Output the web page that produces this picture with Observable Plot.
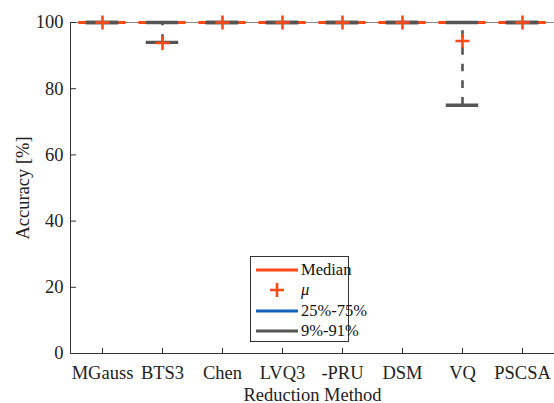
<!DOCTYPE html>
<html>
<head>
<meta charset="utf-8">
<script src="https://cdn.jsdelivr.net/npm/d3@7"></script>
<script src="https://cdn.jsdelivr.net/npm/@observablehq/plot@0.6"></script>
<style>
  body { margin: 0; background: #fff; }
  #wrap { position: relative; width: 554px; height: 403px; overflow: hidden; font-family: "Liberation Serif", "Times New Roman", serif; }
  #wrap svg, #wrap svg text { font-family: "Liberation Serif", "Times New Roman", serif !important; }
  #legend { position: absolute; left: 250px; top: 256px; width: 97px; height: 81px; border: 1px solid #333; background: #fff; box-sizing: content-box; padding-top: 3px; padding-bottom: 0px; }
  .row { height: 20.3px; display: flex; align-items: center; font-size: 16.5px; color: #111; line-height: 20px; }
  .row svg { margin-left: 5px; margin-right: 3px; flex: none; }
</style>
</head>
<body>
<div id="wrap"></div>
<script>
const categories = ["MGauss", "BTS3", "Chen", "LVQ3", "-PRU", "DSM", "VQ", "PSCSA"];
const medians = [100, 100, 100, 100, 100, 100, 100, 100];
const means   = [100, 93.8, 100, 100, 100, 100, 94.4, 100];
const q25     = [100, 100, 100, 100, 100, 100, 100, 100];
const q75     = [100, 100, 100, 100, 100, 100, 100, 100];
const p09     = [100, 94, 100, 100, 100, 100, 75, 100];
const p91     = [100, 100, 100, 100, 100, 100, 100, 100];
const yTicks  = [0, 20, 40, 60, 80, 100];

const ORANGE = "#ff4a17";
const BLUE = "#1560bd";
const GRAY = "#555555";
const FONT = "Liberation Serif";

const rows = categories.map((c, i) => ({
  cat: c, median: medians[i], mean: means[i], q25: q25[i], q75: q75[i], p09: p09[i], p91: p91[i]
}));

const chart = Plot.plot({
  width: 554,
  height: 403,
  marginLeft: 70,
  marginRight: 0,
  marginTop: 22,
  marginBottom: 50,
  style: { fontFamily: FONT, fontSize: "18.5px", color: "#222", background: "#fff" },
  x: { type: "band", domain: categories, padding: 0 },
  y: { domain: [0, 100] },
  marks: [
    Plot.ruleY([100], { stroke: "#888", strokeWidth: 1 }),
    Plot.ruleY([0], { stroke: "#333", strokeWidth: 1 }),
    Plot.frame({ anchor: "left", stroke: "#333", strokeWidth: 1 }),
    Plot.axisY({ ticks: yTicks, text: null, tickSize: 6, dx: 6, stroke: "#333", label: null }),
    Plot.axisY({ ticks: yTicks, tickSize: 0, tickPadding: 7, fontSize: 18.5, fontFamily: FONT, label: "Accuracy [%]", labelAnchor: "center", labelArrow: "none", labelOffset: 55, fill: "#222" }),
    Plot.axisX({ text: null, tickSize: 5, dy: -5, stroke: "#333", label: null }),
    Plot.axisX({ tickSize: 0, tickPadding: 12, fontSize: 18.5, fontFamily: FONT, label: "Reduction Method", labelAnchor: "center", labelArrow: "none", labelOffset: 47, fill: "#222" }),
    Plot.ruleX(rows, { x: "cat", y1: "p09", y2: "q25", stroke: GRAY, strokeWidth: 2.6, strokeDasharray: "7.7,9" }),
    Plot.ruleX(rows, { x: "cat", y1: "p91", y2: "q75", stroke: GRAY, strokeWidth: 2.6, strokeDasharray: "7.7,9" }),
    Plot.rectY(rows, { x: "cat", y1: "q25", y2: "q75", insetLeft: 5, insetRight: 6.5, fill: "none", stroke: BLUE, strokeWidth: 2.6 }),
    Plot.tickY(rows, { x: "cat", y: "median", insetLeft: 6.3, insetRight: 6.3, stroke: ORANGE, strokeWidth: 3 }),
    Plot.tickY(rows, { x: "cat", y: "p09", insetLeft: 13.8, insetRight: 13.8, stroke: GRAY, strokeWidth: 3.4 }),
    Plot.tickY(rows, { x: "cat", y: "p91", insetLeft: 13.8, insetRight: 13.8, stroke: GRAY, strokeWidth: 3.4 }),
    Plot.dot(rows, { x: "cat", y: "mean", symbol: "plus", r: 4.6, stroke: ORANGE, strokeWidth: 2.6 })
  ]
});

const wrap = document.getElementById("wrap");
wrap.appendChild(chart);

const legend = document.createElement("div");
legend.id = "legend";
const items = [
  { label: "Median", kind: "line", color: ORANGE },
  { label: "<i>μ</i>", kind: "plus", color: ORANGE },
  { label: "25%-75%", kind: "line", color: BLUE },
  { label: "9%-91%", kind: "line", color: GRAY }
];
for (const it of items) {
  const row = document.createElement("div");
  row.className = "row";
  const sw = it.kind === "line"
    ? `<svg width="42" height="20"><line x1="0" x2="42" y1="10" y2="10" stroke="${it.color}" stroke-width="3"/></svg>`
    : `<svg width="42" height="20"><path d="M14,10H28M21,3V17" stroke="${it.color}" stroke-width="2.6" fill="none"/></svg>`;
  row.innerHTML = sw + `<span>${it.label}</span>`;
  legend.appendChild(row);
}
wrap.appendChild(legend);
</script>
</body>
</html>
